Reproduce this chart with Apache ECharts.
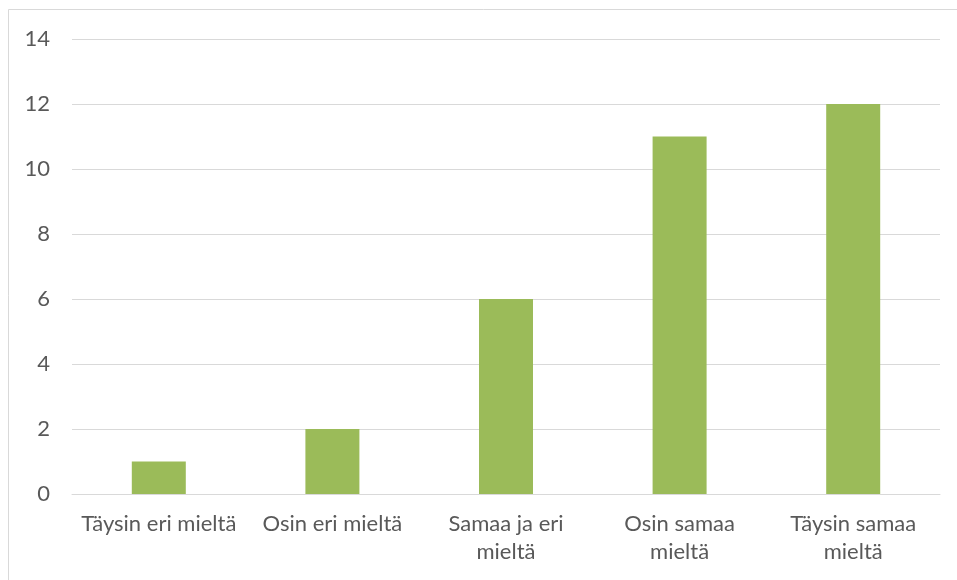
<!DOCTYPE html>
<html>
<head>
<meta charset="UTF-8">
<title>Vastaukset</title>
<style>
  html, body { margin: 0; padding: 0; background: #fff; }
  #main { width: 957px; height: 580px; }
</style>
<script src="https://cdn.jsdelivr.net/npm/echarts@6/dist/echarts.min.js"></script>
</head>
<body>
<div id="main"></div>
<script>
var categories = ['Täysin eri mieltä', 'Osin eri mieltä', 'Samaa ja eri\nmieltä', 'Osin samaa\nmieltä', 'Täysin samaa\nmieltä'];
var values = [1, 2, 6, 11, 12];
var yMin = 0, yMax = 14, yStep = 2;

var myChart = echarts.init(document.getElementById('main'));
var option = {
    animation: false,
    backgroundColor: '#fff',
    graphic: [{
        type: 'rect',
        shape: { x: 8.5, y: 9.5, width: 1000, height: 620 },
        style: { fill: 'none', stroke: '#d9d9d9', lineWidth: 1 }
    }],
    grid: { left: 72, right: 17, top: 39, bottom: 86 },
    xAxis: {
        type: 'category',
        data: categories,
        axisLine: { lineStyle: { color: '#d9d9d9', width: 1 } },
        axisTick: { show: false },
        axisLabel: {
            interval: 0,
            margin: 16,
            color: '#595959',
            fontFamily: 'Lato',
            fontSize: 22,
            lineHeight: 28
        }
    },
    yAxis: {
        type: 'value',
        min: yMin,
        max: yMax,
        interval: yStep,
        axisLine: { show: false },
        axisTick: { show: false },
        splitLine: { lineStyle: { color: '#d9d9d9', width: 1 } },
        axisLabel: {
            margin: 22,
            color: '#595959',
            fontFamily: 'Lato',
            fontSize: 22
        }
    },
    series: [{
        type: 'bar',
        data: values,
        barWidth: 54,
        itemStyle: { color: '#9bbb59' }
    }]
};
myChart.setOption(option);
</script>
</body>
</html>
